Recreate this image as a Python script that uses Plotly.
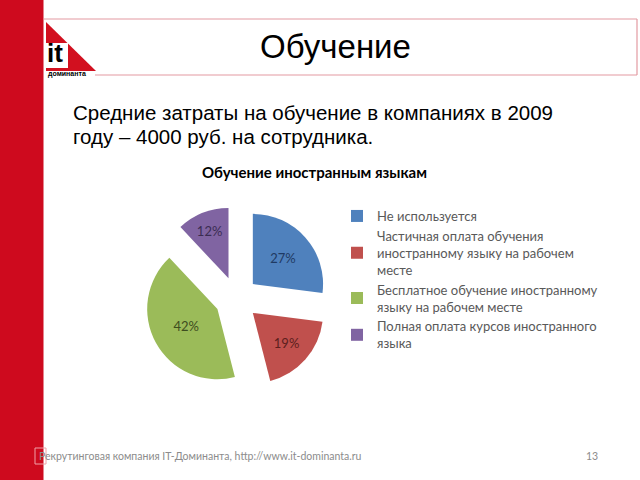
import plotly.graph_objects as go

W, H = 640, 480

# ---- data ----
labels = [
    "Не используется",
    "Частичная оплата обучения<br>иностранному языку на рабочем<br>месте",
    "Бесплатное обучение иностранному<br>языку на рабочем месте",
    "Полная оплата курсов иностранного<br>языка",
]
values = [27, 19, 42, 12]
colors = ["#4F81BD", "#C0504D", "#9BBB59", "#8064A2"]
text_colors = ["#1F3A63", "#5C1F1D", "#3E4D20", "#3B2C52"]

slide_title = "Обучение"
subtitle_lines = ["Средние затраты на обучение в компаниях в 2009",
                  "году – 4000 руб. на сотрудника."]
chart_title = "Обучение иностранным языкам"
footer = "Рекрутинговая компания IT-Доминанта, http://www.it-dominanta.ru"
page_no = "13"


def px(x):
    return x / W


def py(y):
    return 1 - y / H


fig = go.Figure()
fig.add_trace(go.Pie(
    labels=labels, values=values, sort=False, direction="clockwise", rotation=0,
    marker=dict(colors=colors, line=dict(width=0)),
    pull=[0.31] * 4,
    textinfo="percent", textposition="inside", insidetextorientation="horizontal",
    textfont=dict(family="Lato, sans-serif", size=13, color=text_colors),
    domain=dict(x=[px(144.5), px(328.5)], y=[py(390.5), py(206.5)]),
    hoverinfo="none",
))

shapes = [
    # red vertical band
    dict(type="rect", xref="paper", yref="paper", x0=0, x1=px(43.5), y0=0, y1=1,
         fillcolor="#CE0A1E", line=dict(width=0), layer="below"),
    # title box lines
    dict(type="line", xref="paper", yref="paper", x0=px(44), x1=px(637), y0=py(19), y1=py(19),
         line=dict(color="#E39AA2", width=1.2)),
    dict(type="line", xref="paper", yref="paper", x0=px(95), x1=px(637), y0=py(75), y1=py(75),
         line=dict(color="#E39AA2", width=1.2)),
    dict(type="line", xref="paper", yref="paper", x0=px(637), x1=px(637), y0=py(19), y1=py(75),
         line=dict(color="#E39AA2", width=1.2)),
    # logo triangle
    dict(type="path", xref="paper", yref="paper",
         path=f"M {px(46)} {py(22)} L {px(96)} {py(71)} L {px(46)} {py(71)} Z",
         fillcolor="#D2101F", line=dict(width=0)),
    dict(type="rect", xref="paper", yref="paper", x0=px(46), x1=px(68), y0=py(68), y1=py(43),
         fillcolor="white", line=dict(width=0)),
    # footer small square
    dict(type="rect", xref="paper", yref="paper", x0=px(35), x1=px(46), y0=py(464), y1=py(448),
         fillcolor="rgba(0,0,0,0)", line=dict(color="#F0A0A8", width=1)),
]

annotations = [
    dict(text=slide_title, x=px(335), y=py(47), xref="paper", yref="paper", showarrow=False,
         font=dict(family="Liberation Sans, Arial", size=33, color="#000000"),
         xanchor="center", yanchor="middle"),
    dict(text="it", x=px(45), y=py(53), xref="paper", yref="paper", showarrow=False,
         font=dict(family="Liberation Sans, Arial", size=26, color="#000000", weight="bold"),
         xanchor="left", yanchor="middle"),
    dict(text="доминанта", x=px(46), y=py(74), xref="paper", yref="paper", showarrow=False,
         font=dict(family="Liberation Sans, Arial", size=7, color="#000000", weight="bold"),
         xanchor="left", yanchor="middle"),
    dict(text=subtitle_lines[0], x=px(71), y=py(113), xref="paper", yref="paper", showarrow=False,
         font=dict(family="Liberation Sans, Arial", size=20.5, color="#000000"),
         xanchor="left", yanchor="middle"),
    dict(text=subtitle_lines[1], x=px(71), y=py(136), xref="paper", yref="paper", showarrow=False,
         font=dict(family="Liberation Sans, Arial", size=20.5, color="#000000"),
         xanchor="left", yanchor="middle"),
    dict(text=f"<b>{chart_title}</b>", x=px(314), y=py(172), xref="paper", yref="paper", showarrow=False,
         font=dict(family="Lato, sans-serif", size=15, color="#000000"),
         xanchor="center", yanchor="middle"),
    dict(text=footer, x=px(37), y=py(456), xref="paper", yref="paper", showarrow=False,
         font=dict(family="Lato, sans-serif", size=10.5, color="#8C8C8C"),
         xanchor="left", yanchor="middle"),
    dict(text=page_no, x=px(600), y=py(456), xref="paper", yref="paper", showarrow=False,
         font=dict(family="Lato, sans-serif", size=10.5, color="#8C8C8C"),
         xanchor="right", yanchor="middle"),
]

fig.update_layout(
    width=W, height=H, margin=dict(l=0, r=0, t=0, b=0),
    paper_bgcolor="white", plot_bgcolor="white",
    shapes=shapes, annotations=annotations,
    showlegend=True,
    legend=dict(x=px(337), y=py(201), xanchor="left", yanchor="top",
                font=dict(family="Lato, sans-serif", size=13, color="#595959"),
                itemwidth=30, tracegroupgap=0, itemclick=False,
                bgcolor="rgba(0,0,0,0)"),
)

fig.write_html("out.html")
